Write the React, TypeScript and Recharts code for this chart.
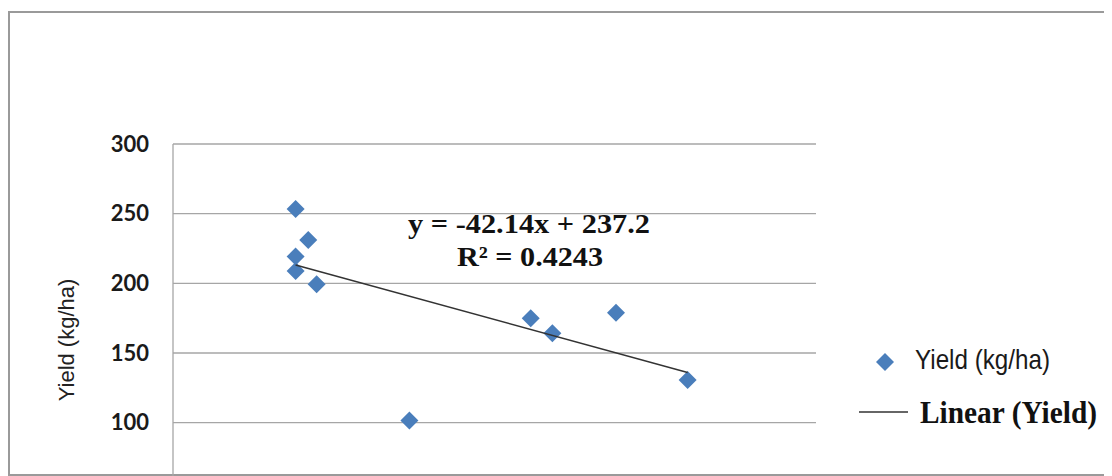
import React from 'react';
import { ScatterChart, Scatter, XAxis, YAxis, CartesianGrid } from 'recharts';

const xValues = [0.572, 0.631, 0.572, 0.572, 0.67, 1.103, 1.669, 1.77, 2.067, 2.401];
const yieldValues = [253.4, 231.1, 219.2, 208.9, 199.4, 101.5, 175.0, 164.2, 178.9, 130.7];
const yTicks = [100, 150, 200, 250, 300];
const slope = -42.14;
const intercept = 237.2;
const equationText = 'y = -42.14x + 237.2';
const r2Text = 'R² = 0.4243';
const seriesName = 'Yield (kg/ha)';
const trendName = 'Linear (Yield)';
const yLabel = 'Yield (kg/ha)';

const points = xValues.map((x, i) => ({ x, y: yieldValues[i] }));
const minX = Math.min(...xValues);
const maxX = Math.max(...xValues);
const trend = [
  { x: minX, y: slope * minX + intercept },
  { x: maxX, y: slope * maxX + intercept },
];

const BLUE = '#4A7EBB';

const Diamond = (props: any) => {
  const { cx, cy } = props;
  if (cx == null || cy == null) return <g />;
  const r = 9;
  return (
    <polygon
      points={`${cx},${cy - r} ${cx + r},${cy} ${cx},${cy + r} ${cx - r},${cy}`}
      fill={BLUE}
    />
  );
};

const NoShape = () => <g />;

export default function App() {
  return (
    <div style={{ position: 'relative', width: 1104, height: 468, overflow: 'hidden', background: '#fff' }}>
      <div
        style={{
          position: 'absolute',
          left: 0,
          top: 3,
          width: 1200,
          height: 465,
          border: '2px solid #9a9a9a',
          boxSizing: 'border-box',
        }}
      />
      <div style={{ position: 'absolute', left: 0, top: 0 }}>
        <ScatterChart
          width={1104}
          height={580}
          margin={{ top: 136, right: 296, bottom: 26, left: 105 }}
        >
          <CartesianGrid horizontal vertical={false} stroke="#a6a6a6" strokeWidth={1.3} />
          <XAxis type="number" dataKey="x" domain={[0, 3]} hide />
          <YAxis
            type="number"
            dataKey="y"
            domain={[0, 300]}
            ticks={yTicks}
            width={60}
            tickLine={false}
            tickMargin={18}
            axisLine={{ stroke: '#a6a6a6', strokeWidth: 1.3 }}
            tick={{ fill: '#1a1a1a', fontSize: 22, fontWeight: 700, fontFamily: 'Lato' }}
            interval={0}
          />
          <Scatter
            name={seriesName}
            data={points}
            shape={<Diamond />}
            isAnimationActive={false}
          />
          <Scatter
            name={trendName}
            data={trend}
            line={{ stroke: '#333', strokeWidth: 1.5 }}
            shape={<NoShape />}
            isAnimationActive={false}
          />
        </ScatterChart>
      </div>
      <svg
        width={1104}
        height={468}
        style={{ position: 'absolute', left: 0, top: 0, pointerEvents: 'none' }}
      >
        <text
          x={66}
          y={332}
          transform="rotate(-90 66 332)"
          textAnchor="middle"
          fontFamily="'Liberation Sans', Arial, sans-serif"
          fontSize={22}
          fill="#222"
        >
          {yLabel}
        </text>
        <text
          x={521}
          y={225}
          textAnchor="middle"
          fontFamily="'Liberation Serif', 'Times New Roman', serif"
          fontWeight={700}
          fontSize={28}
          fill="#111"
          textLength={242}
          lengthAdjust="spacingAndGlyphs"
        >
          {equationText}
        </text>
        <text
          x={522}
          y={258}
          textAnchor="middle"
          fontFamily="'Liberation Serif', 'Times New Roman', serif"
          fontWeight={700}
          fontSize={28}
          fill="#111"
          textLength={146}
          lengthAdjust="spacingAndGlyphs"
        >
          {r2Text}
        </text>
        <polygon points="877,345 886,354 877,363 868,354" fill={BLUE} />
        <text
          x={907}
          y={361}
          fontFamily="'Liberation Sans', Arial, sans-serif"
          fontSize={28}
          fill="#1a1a1a"
          textLength={135}
          lengthAdjust="spacingAndGlyphs"
        >
          {seriesName}
        </text>
        <line x1={851} y1={404} x2={900} y2={404} stroke="#333" strokeWidth={1.5} />
        <text
          x={912}
          y={415}
          fontFamily="'Liberation Serif', 'Times New Roman', serif"
          fontWeight={700}
          fontSize={31}
          fill="#111"
          textLength={177}
          lengthAdjust="spacingAndGlyphs"
        >
          {trendName}
        </text>
      </svg>
    </div>
  );
}
